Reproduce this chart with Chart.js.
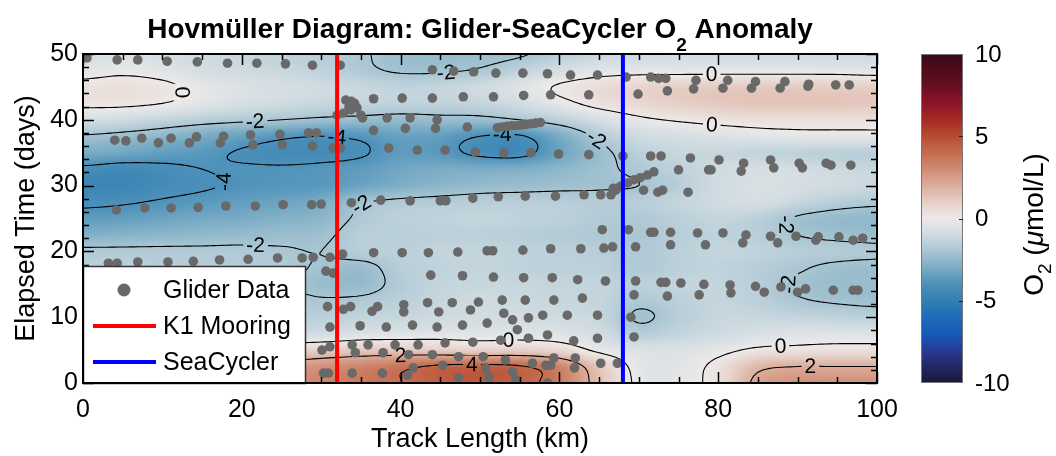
<!DOCTYPE html>
<html>
<head>
<meta charset="utf-8">
<script src="https://cdn.jsdelivr.net/npm/chart.js@4.4.1/dist/chart.umd.min.js"></script>
<style>
  html, body { margin: 0; padding: 0; background: #fff; }
  canvas { display: block; }
</style>
</head>
<body>
<canvas id="hovmoller" width="1056" height="456"></canvas>
<script>
const FONT = '"Liberation Sans", Arial, Helvetica, sans-serif';

// O2 anomaly field (umol/L) on a 5 km x 2.5 day grid, rows from day 50 down to day 0
const gridKm = [0, 5, 10, 15, 20, 25, 30, 35, 40, 45, 50, 55, 60, 65, 70, 75, 80, 85, 90, 95, 100];
const gridDays = [50, 47.5, 45, 42.5, 40, 37.5, 35, 32.5, 30, 27.5, 25, 22.5, 20, 17.5, 15, 12.5, 10, 7.5, 5, 2.5, 0];
const o2Anomaly = [
  [-0.8, -0.6, -0.8, -1.0, -1.2, -1.4, -1.6, -1.9, -2.3, -2.4, -2.3, -2.1, -1.6, -1.2, -1.0, -0.9, -0.9, -0.9, -0.9, -1.0, -1.0],
  [-0.4, -0.2, -0.4, -0.8, -1.0, -1.2, -1.4, -1.8, -2.1, -2.1, -1.9, -1.4, -0.8, -0.4, -0.3, -0.3, -0.3, -0.3, -0.3, -0.3, -0.4],
  [0.3, 0.4, 0.2, -0.3, -0.6, -0.8, -1.0, -1.2, -1.4, -1.3, -1.0, -0.5, 0.1, 0.5, 0.8, 1.0, 1.1, 1.1, 1.1, 1.0, 1.0],
  [0.2, 0.2, 0.0, -0.4, -0.8, -1.0, -1.2, -1.3, -1.4, -1.4, -1.3, -0.9, -0.3, 0.3, 0.7, 1.0, 1.2, 1.3, 1.3, 1.3, 1.2],
  [-0.8, -1.0, -1.3, -1.6, -1.8, -2.0, -2.2, -2.3, -2.4, -2.3, -2.3, -2.0, -1.5, -0.8, -0.2, 0.1, 0.3, 0.4, 0.4, 0.4, 0.4],
  [-2.1, -2.3, -2.6, -3.0, -3.4, -3.8, -4.0, -3.8, -3.4, -3.5, -4.0, -4.1, -3.0, -1.8, -1.0, -0.8, -0.6, -0.4, -0.3, -0.3, -0.3],
  [-3.0, -3.2, -3.5, -3.7, -4.1, -4.3, -4.3, -4.1, -3.6, -3.7, -4.2, -4.3, -3.3, -2.3, -1.5, -1.2, -1.2, -1.3, -1.4, -1.5, -1.5],
  [-4.2, -4.4, -4.2, -4.0, -3.9, -3.9, -3.8, -3.6, -3.2, -3.0, -3.0, -2.9, -2.6, -2.2, -1.8, -1.4, -1.0, -0.8, -0.9, -1.1, -1.2],
  [-4.6, -4.6, -4.3, -4.1, -3.9, -3.8, -3.7, -3.3, -2.9, -2.6, -2.4, -2.3, -2.2, -2.1, -2.0, -1.6, -1.0, -0.7, -0.8, -1.0, -1.1],
  [-4.2, -4.1, -3.9, -3.7, -3.5, -3.3, -3.0, -2.1, -1.8, -1.7, -1.6, -1.6, -1.6, -1.7, -1.6, -1.3, -1.0, -0.8, -1.2, -1.6, -1.8],
  [-3.6, -3.5, -3.3, -3.1, -3.0, -2.8, -2.6, -1.8, -1.5, -1.4, -1.3, -1.4, -1.5, -1.7, -1.8, -1.5, -1.3, -1.5, -2.1, -2.4, -2.5],
  [-2.8, -2.7, -2.6, -2.5, -2.4, -2.3, -2.2, -1.6, -1.6, -1.5, -1.5, -1.6, -1.7, -1.8, -1.9, -1.6, -1.4, -1.6, -2.0, -2.2, -2.3],
  [-1.8, -1.8, -1.8, -1.8, -1.8, -1.9, -2.0, -1.6, -1.5, -1.3, -1.3, -1.4, -1.5, -1.6, -1.8, -1.5, -1.3, -1.4, -1.6, -1.7, -1.8],
  [-1.5, -1.5, -1.6, -1.6, -1.7, -1.8, -2.1, -2.3, -1.6, -1.4, -1.3, -1.4, -1.5, -1.5, -1.8, -1.5, -1.4, -1.6, -1.9, -2.2, -2.3],
  [-1.4, -1.4, -1.5, -1.6, -1.7, -1.9, -2.3, -2.4, -1.7, -1.3, -1.2, -1.2, -1.3, -1.3, -1.5, -1.3, -1.3, -1.6, -2.1, -2.3, -2.3],
  [-1.2, -1.2, -1.3, -1.4, -1.5, -1.7, -1.9, -1.8, -1.5, -1.2, -1.0, -1.1, -1.2, -1.3, -1.8, -1.5, -1.3, -1.5, -1.9, -2.1, -2.2],
  [-1.0, -1.0, -1.1, -1.2, -1.3, -1.4, -1.5, -1.3, -1.2, -1.0, -0.9, -0.9, -1.0, -1.2, -2.1, -1.6, -1.2, -1.2, -1.3, -1.4, -1.5],
  [-0.8, -0.8, -0.9, -1.0, -1.0, -1.0, -0.9, -0.6, -0.5, -0.4, -0.4, -0.4, -0.5, -0.9, -1.6, -1.3, -1.0, -0.7, -0.5, -0.5, -0.5],
  [0.0, 0.0, 0.1, 0.3, 0.5, 0.8, 1.0, 1.2, 1.2, 1.1, 0.9, 1.0, 0.7, -0.2, -0.6, -0.6, -0.3, 0.2, 0.3, 0.4, 0.4],
  [1.0, 1.2, 1.4, 1.6, 2.0, 2.4, 2.8, 3.2, 3.7, 4.2, 4.3, 4.1, 3.2, 1.2, -0.3, -0.4, 0.3, 1.7, 2.0, 2.0, 2.0],
  [1.2, 1.4, 1.6, 2.0, 2.4, 2.8, 3.2, 3.6, 4.0, 4.4, 4.6, 4.3, 3.5, 1.5, -0.2, -0.3, 0.4, 2.3, 2.8, 2.8, 2.8]
];

const contourLevels = [-4, -2, 0, 2, 4];
const colorbarTicks = [-10, -5, 0, 5, 10];

// mooring positions along the track (km)
const k1MooringKm = 32;
const seaCyclerKm = 68;

// glider profiles: [track length km, elapsed days]
const gliderSamples = [
  [0.5, 49.4], [4.3, 49.1], [6.9, 49.1], [10.6, 48.9], [14.4, 48.8], [18.2, 48.6], [21.9, 48.6], [25.5, 48.5], [28.9, 48.3], [32.4, 48.3],
  [44.0, 47.6], [46.7, 47.4], [49.2, 47.3], [52.0, 47.1], [55.4, 47.1], [58.5, 47.0], [61.4, 46.8], [64.8, 46.8], [68.4, 46.5],
  [71.5, 46.5], [72.5, 46.3], [73.4, 46.3], [77.2, 46.0], [81.2, 46.0], [84.7, 45.8], [88.4, 45.8], [91.4, 45.4], [94.8, 45.3], [96.5, 45.3],
  [69.9, 43.9], [73.6, 44.4], [76.9, 44.7], [80.6, 44.8], [84.2, 44.8], [87.8, 44.8], [91.3, 45.1],
  [36.6, 43.2], [40.2, 43.3], [44.0, 43.3], [47.9, 43.5], [51.7, 43.5], [55.5, 43.7], [58.9, 43.8], [63.7, 43.8],
  [33.1, 43.0], [33.8, 42.8], [34.2, 42.5], [34.0, 42.2], [33.5, 42.0], [34.5, 41.8], [33.7, 41.5], [32.8, 41.0], [32.0, 40.7], [35.0, 40.7],
  [35.2, 40.3], [38.3, 40.3], [41.2, 40.3], [44.6, 40.0],
  [36.6, 38.4], [40.6, 38.7], [44.4, 38.7], [48.4, 38.9],
  [52.2, 38.8], [52.8, 38.9], [53.4, 39.0], [54.0, 39.1], [54.6, 39.1], [55.2, 39.2], [55.8, 39.3], [56.4, 39.4], [57.0, 39.5], [57.6, 39.6],
  [4.0, 36.9], [5.4, 36.8], [7.4, 37.2], [9.5, 36.5], [11.1, 37.2], [13.4, 36.5], [14.3, 37.4], [17.3, 36.5], [17.7, 37.5], [21.1, 37.7],
  [21.4, 36.2], [24.8, 37.8], [25.1, 36.2], [28.4, 38.0], [29.4, 38.0], [28.9, 36.0], [31.5, 35.7], [32.4, 35.7],
  [38.5, 35.7], [42.1, 35.4], [45.6, 35.4], [49.4, 35.1], [53.0, 35.0], [56.4, 35.0], [59.9, 34.8], [63.7, 34.7], [68.0, 34.5], [71.5, 34.5],
  [72.8, 34.5], [76.5, 34.2],
  [80.1, 33.9], [79.1, 32.4], [83.2, 33.4], [82.9, 32.2], [86.6, 33.9], [87.0, 32.7], [90.2, 33.4], [90.6, 32.7], [93.6, 33.4], [94.2, 33.1], [96.7, 33.1],
  [65.2, 28.6], [66.5, 28.6], [66.8, 29.6], [67.1, 29.3], [67.7, 29.9], [68.6, 30.4], [69.4, 30.9], [70.2, 31.2], [71.1, 31.6], [71.9, 32.1],
  [70.6, 29.3], [72.4, 29.0], [73.0, 29.3], [76.2, 29.0], [75.0, 32.4], [78.8, 32.4],
  [4.2, 26.3], [7.8, 26.6], [11.1, 26.6], [14.5, 26.7], [18.0, 26.9], [21.7, 26.9], [25.2, 27.1], [28.8, 27.1], [30.0, 27.2], [33.8, 27.4],
  [37.5, 27.8], [41.2, 27.7], [45.0, 27.7], [45.7, 27.7], [49.1, 28.1], [52.3, 28.3], [55.7, 28.4], [59.5, 28.4], [63.1, 28.6],
  [65.4, 23.3], [66.7, 20.7], [68.7, 23.3], [69.6, 20.7], [71.5, 22.9], [71.9, 22.9], [74.0, 22.9], [74.0, 21.0], [77.4, 22.8], [78.4, 21.0],
  [80.6, 22.8], [83.1, 21.3], [83.5, 22.5], [86.6, 22.3], [87.5, 21.3], [89.8, 22.3], [92.3, 21.7], [92.6, 22.2], [95.2, 22.2], [97.0, 21.7], [98.2, 22.0],
  [3.2, 18.2], [4.3, 18.2], [6.9, 18.4], [10.7, 18.4], [13.9, 18.5], [17.2, 18.7], [20.8, 18.8], [24.5, 19.0], [27.6, 19.0], [29.0, 19.1],
  [31.1, 19.1], [32.7, 19.6], [36.6, 19.8], [40.2, 19.8], [43.5, 19.8], [47.2, 19.9], [50.9, 20.1], [51.6, 20.1], [55.4, 20.2], [58.9, 20.4],
  [62.7, 20.4], [65.6, 20.5],
  [30.6, 17.0], [31.5, 16.7], [43.8, 16.4], [47.8, 16.3], [51.7, 16.1], [55.5, 16.0], [59.1, 16.0], [62.3, 15.7], [65.8, 15.5], [69.6, 15.5],
  [72.8, 15.3], [73.4, 15.3], [75.3, 15.2],
  [78.2, 15.0], [77.6, 13.4], [81.5, 14.9], [81.6, 13.7], [84.7, 14.7], [85.8, 13.8], [87.9, 14.6], [90.0, 13.8], [91.0, 14.3], [94.5, 14.1],
  [97.0, 14.1], [97.6, 14.1], [69.4, 13.4], [73.6, 13.2],
  [30.8, 11.6], [32.8, 11.2], [33.7, 11.6], [31.1, 8.5], [34.9, 8.7], [36.4, 10.9], [37.1, 11.6], [40.4, 11.9], [40.4, 10.8], [38.2, 8.5],
  [41.5, 8.8], [43.4, 12.2], [44.8, 10.8], [44.6, 8.5], [46.5, 12.2], [47.8, 8.8], [48.8, 11.1], [49.8, 12.3], [50.9, 9.1], [52.8, 12.6],
  [53.0, 10.6], [54.1, 9.6], [54.7, 8.1], [55.7, 12.6], [56.1, 9.9], [57.9, 10.3], [59.3, 12.6], [61.0, 10.3], [62.9, 12.9], [64.8, 10.3],
  [69.0, 10.0], [69.4, 7.0],
  [30.1, 5.0], [31.1, 5.5], [33.9, 5.8], [35.9, 5.8], [39.3, 5.8], [42.2, 5.8], [45.6, 6.1], [49.1, 6.2], [52.6, 6.5], [56.1, 6.8],
  [58.5, 7.3], [61.8, 6.4], [64.8, 6.8],
  [34.3, 4.6], [37.8, 4.6], [41.0, 4.3], [44.0, 4.3], [47.3, 4.0], [50.4, 4.0], [53.2, 3.5], [56.6, 3.0], [59.3, 3.8], [58.9, 2.7],
  [62.0, 3.8], [61.9, 2.3], [65.2, 3.0], [67.3, 3.0],
  [30.3, 1.5], [30.9, 1.5], [33.9, 1.5], [37.7, 1.5], [40.9, 1.2], [41.6, 2.3], [45.3, 2.7], [47.3, 0.8], [50.7, 2.3], [51.1, 0.9],
  [54.1, 1.7], [54.5, 0.5], [58.3, 2.7], [58.5, 0.0]
];

// diverging colour map, one stop per unit from -10 to 10
const cmap = [
  [22, 25, 60], [35, 40, 100], [40, 60, 150], [22, 90, 188], [30, 108, 182], [50, 127, 178],
  [76, 145, 186], [122, 172, 197], [168, 197, 210], [207, 219, 225], [237, 234, 233],
  [230, 208, 200], [220, 174, 156], [208, 140, 115], [197, 108, 80], [182, 76, 50],
  [166, 42, 36], [140, 22, 42], [105, 15, 35], [80, 12, 28], [58, 9, 22]
];

function o2Color(v) {
  const f = Math.max(0, Math.min(20, v + 10));
  const i = Math.min(19, Math.floor(f)), t = f - i;
  const a = cmap[i], b = cmap[i + 1];
  return [a[0] + (b[0] - a[0]) * t, a[1] + (b[1] - a[1]) * t, a[2] + (b[2] - a[2]) * t];
}

const nCol = gridKm.length, nRow = gridDays.length;
const stepKm = gridKm[1] - gridKm[0], stepDay = gridDays[0] - gridDays[1];
const kmMin = gridKm[0], kmMax = gridKm[nCol - 1];
const dayMin = gridDays[nRow - 1], dayMax = gridDays[0];

function node(r, c) {
  r = Math.max(0, Math.min(nRow - 1, r));
  c = Math.max(0, Math.min(nCol - 1, c));
  return o2Anomaly[r][c];
}
function catmull(p0, p1, p2, p3, t) {
  return p1 + 0.5 * t * (p2 - p0 + t * (2 * p0 - 5 * p1 + 4 * p2 - p3 + t * (3 * (p1 - p2) + p3 - p0)));
}
// smooth (cubic) sampling of the grid for shading and contouring
function fieldAt(km, day) {
  const fc = (km - kmMin) / stepKm, fr = (dayMax - day) / stepDay;
  const c = Math.min(nCol - 2, Math.floor(fc)), r = Math.min(nRow - 2, Math.floor(fr));
  const tc = fc - c, tr = fr - r;
  const rows = [];
  for (let k = -1; k <= 2; k++) {
    rows.push(catmull(node(r + k, c - 1), node(r + k, c), node(r + k, c + 1), node(r + k, c + 2), tc));
  }
  return catmull(rows[0], rows[1], rows[2], rows[3], tr);
}

// marching squares on a fine resampling, chained into polylines
const fineKm = 0.5, fineDay = 0.25;
function contourLines(level) {
  const nx = Math.round((kmMax - kmMin) / fineKm) + 1;
  const ny = Math.round((dayMax - dayMin) / fineDay) + 1;
  const f = [];
  for (let j = 0; j < ny; j++) {
    const row = [];
    for (let i = 0; i < nx; i++) row.push(fieldAt(kmMin + i * fineKm, dayMin + j * fineDay));
    f.push(row);
  }
  const pt = (type, i, j, v0, v1) => {
    const t = (level - v0) / (v1 - v0);
    return type === 'h' ? { k: 'h' + i + '_' + j, x: i + t, y: j } : { k: 'v' + i + '_' + j, x: i, y: j + t };
  };
  const segs = [];
  for (let j = 0; j < ny - 1; j++) {
    for (let i = 0; i < nx - 1; i++) {
      const a = f[j][i], b = f[j][i + 1], c = f[j + 1][i + 1], d = f[j + 1][i];
      const A = a >= level, B = b >= level, C = c >= level, D = d >= level;
      const bottom = A !== B ? pt('h', i, j, a, b) : null;
      const right = B !== C ? pt('v', i + 1, j, b, c) : null;
      const top = D !== C ? pt('h', i, j + 1, d, c) : null;
      const left = A !== D ? pt('v', i, j, a, d) : null;
      const list = [bottom, right, top, left].filter(Boolean);
      if (list.length === 2) segs.push(list);
      else if (list.length === 4) {
        const centre = (a + b + c + d) / 4 >= level;
        if (centre === A) { segs.push([bottom, right]); segs.push([top, left]); }
        else { segs.push([bottom, left]); segs.push([right, top]); }
      }
    }
  }
  const byKey = new Map();
  segs.forEach((s, n) => s.forEach(p => {
    if (!byKey.has(p.k)) byKey.set(p.k, []);
    byKey.get(p.k).push(n);
  }));
  const used = new Array(segs.length).fill(false);
  const lines = [];
  const walk = (key, add) => {
    for (;;) {
      const next = (byKey.get(key) || []).find(m => !used[m]);
      if (next === undefined) return;
      used[next] = true;
      const s = segs[next];
      const other = s[0].k === key ? s[1] : s[0];
      add(other);
      key = other.k;
    }
  };
  for (let n = 0; n < segs.length; n++) {
    if (used[n]) continue;
    used[n] = true;
    const line = [segs[n][0], segs[n][1]];
    walk(segs[n][1].k, p => line.push(p));
    walk(segs[n][0].k, p => line.unshift(p));
    lines.push(line.map(p => ({ km: kmMin + p.x * fineKm, day: dayMin + p.y * fineDay })));
  }
  return lines;
}

const legendBox = { w: 222, h: 117 };

const fieldPlugin = {
  id: 'o2field',
  beforeDatasetsDraw(chart) {
    const { ctx, chartArea: a, scales: { x, y } } = chart;
    const w = Math.round(a.right - a.left), h = Math.round(a.bottom - a.top);
    const off = document.createElement('canvas');
    off.width = w; off.height = h;
    const octx = off.getContext('2d');
    const img = octx.createImageData(w, h);
    const kms = [];
    for (let px = 0; px < w; px++) kms.push(x.getValueForPixel(a.left + px + 0.5));
    for (let py = 0; py < h; py++) {
      const day = y.getValueForPixel(a.top + py + 0.5);
      for (let px = 0; px < w; px++) {
        const col = o2Color(fieldAt(kms[px], day));
        const k = (py * w + px) * 4;
        img.data[k] = col[0]; img.data[k + 1] = col[1]; img.data[k + 2] = col[2]; img.data[k + 3] = 255;
      }
    }
    octx.putImageData(img, 0, 0);
    ctx.drawImage(off, a.left, a.top);

    // contour lines with inline labels
    ctx.save();
    ctx.font = '21px ' + FONT;
    const labels = [];
    const paths = [];
    contourLevels.forEach(level => {
      contourLines(level).forEach(line => {
        const pts = line.map(p => [x.getPixelForValue(p.km), y.getPixelForValue(p.day)]);
        paths.push(pts);
        const cum = [0];
        for (let i = 1; i < pts.length; i++) {
          cum.push(cum[i - 1] + Math.hypot(pts[i][0] - pts[i - 1][0], pts[i][1] - pts[i - 1][1]));
        }
        const L = cum[cum.length - 1];
        if (L < 70) return;
        const at = s => {
          let i = cum.findIndex(c => c >= s);
          if (i < 1) i = 1;
          const t = (s - cum[i - 1]) / ((cum[i] - cum[i - 1]) || 1);
          return [pts[i - 1][0] + (pts[i][0] - pts[i - 1][0]) * t, pts[i - 1][1] + (pts[i][1] - pts[i - 1][1]) * t];
        };
        const n = Math.max(1, Math.round(L / 360));
        for (let k = 0; k < n; k++) {
          const s = L * (k + 0.5) / n;
          const c = at(s), p0 = at(Math.max(0, s - 12)), p1 = at(Math.min(L, s + 12));
          if (c[0] < a.left + 12 || c[0] > a.right - 12 || c[1] < a.top + 10 || c[1] > a.bottom - 10) continue;
          if (c[0] < a.left + legendBox.w + 14 && c[1] > a.bottom - legendBox.h - 12) continue;
          let ang = Math.atan2(p1[1] - p0[1], p1[0] - p0[0]);
          if (ang > Math.PI / 2) ang -= Math.PI;
          if (ang < -Math.PI / 2) ang += Math.PI;
          const text = String(level);
          labels.push({ x: c[0], y: c[1], ang, text, w: ctx.measureText(text).width });
        }
      });
    });
    ctx.beginPath();
    ctx.rect(a.left, a.top, a.right - a.left, a.bottom - a.top);
    labels.forEach(l => {
      const hw = l.w / 2 + 3, hh = 9;
      const c = Math.cos(l.ang), s = Math.sin(l.ang);
      [[-hw, -hh], [hw, -hh], [hw, hh], [-hw, hh]].forEach(([u, v], i) => {
        const X = l.x + u * c - v * s, Y = l.y + u * s + v * c;
        if (i === 0) ctx.moveTo(X, Y); else ctx.lineTo(X, Y);
      });
      ctx.closePath();
    });
    ctx.clip('evenodd');
    ctx.strokeStyle = '#000';
    ctx.lineWidth = 1.1;
    paths.forEach(pts => {
      ctx.beginPath();
      pts.forEach((p, i) => (i ? ctx.lineTo(p[0], p[1]) : ctx.moveTo(p[0], p[1])));
      ctx.stroke();
    });
    ctx.restore();
    ctx.save();
    ctx.beginPath();
    ctx.rect(a.left, a.top, a.right - a.left, a.bottom - a.top);
    ctx.clip();
    ctx.fillStyle = '#000';
    ctx.font = '21px ' + FONT;
    ctx.textAlign = 'center';
    ctx.textBaseline = 'middle';
    labels.forEach(l => {
      ctx.save();
      ctx.translate(l.x, l.y);
      ctx.rotate(l.ang);
      ctx.fillText(l.text, 0, 1);
      ctx.restore();
    });
    ctx.restore();
  },

  afterDatasetsDraw(chart) {
    const { ctx, chartArea: a, scales: { x, y } } = chart;
    ctx.save();
    ctx.strokeStyle = '#000';
    ctx.lineWidth = 1.5;
    ctx.beginPath();
    for (let v = 0; v <= 100; v += 5) {
      const len = v % 20 === 0 ? 11 : 6;
      const px = Math.round(x.getPixelForValue(v)) + 0.5;
      ctx.moveTo(px, a.bottom); ctx.lineTo(px, a.bottom - len);
      ctx.moveTo(px, a.top); ctx.lineTo(px, a.top + len);
    }
    for (let v = 0; v <= 50; v += 2) {
      const len = v % 10 === 0 ? 11 : 6;
      const py = Math.round(y.getPixelForValue(v)) + 0.5;
      ctx.moveTo(a.left, py); ctx.lineTo(a.left + len, py);
      ctx.moveTo(a.right, py); ctx.lineTo(a.right - len, py);
    }
    ctx.stroke();

    // legend box in the lower-left corner
    const lx = a.left, ly = a.bottom - legendBox.h;
    ctx.fillStyle = '#fff';
    ctx.fillRect(lx, ly, legendBox.w, legendBox.h);
    ctx.strokeStyle = '#333';
    ctx.lineWidth = 1.5;
    ctx.strokeRect(lx + 0.5, ly + 0.5, legendBox.w, legendBox.h);
    const ds = chart.data.datasets;
    const entries = [ds[2], ds[0], ds[1]];
    ctx.font = '25px ' + FONT;
    ctx.textBaseline = 'middle';
    ctx.textAlign = 'left';
    entries.forEach((d, i) => {
      const cy = ly + 24 + i * 36;
      if (d.type === 'line') {
        ctx.strokeStyle = d.borderColor;
        ctx.lineWidth = 4;
        ctx.beginPath();
        ctx.moveTo(lx + 10, cy); ctx.lineTo(lx + 73, cy);
        ctx.stroke();
      } else {
        ctx.fillStyle = d.backgroundColor;
        ctx.beginPath();
        ctx.arc(lx + 41, cy, 6.5, 0, Math.PI * 2);
        ctx.fill();
      }
      ctx.fillStyle = '#000';
      ctx.fillText(d.label, lx + 80, cy + 1);
    });

    ctx.strokeStyle = '#000';
    ctx.lineWidth = 2;
    ctx.strokeRect(a.left, a.top, a.right - a.left, a.bottom - a.top);
    ctx.restore();
  },

  afterDraw(chart) {
    const { ctx, chartArea: a } = chart;
    ctx.save();
    // title with subscript
    const t1 = 'Hovmüller Diagram: Glider-SeaCycler O', t2 = '2', t3 = ' Anomaly';
    ctx.fillStyle = '#000';
    ctx.textBaseline = 'alphabetic';
    ctx.textAlign = 'left';
    ctx.font = 'bold 28px ' + FONT;
    const w1 = ctx.measureText(t1).width, w3 = ctx.measureText(t3).width;
    ctx.font = 'bold 19px ' + FONT;
    const w2 = ctx.measureText(t2).width;
    let tx = (a.left + a.right) / 2 - (w1 + w2 + w3) / 2;
    ctx.font = 'bold 28px ' + FONT;
    ctx.fillText(t1, tx, 38);
    ctx.font = 'bold 19px ' + FONT;
    ctx.fillText(t2, tx + w1, 51);
    ctx.font = 'bold 28px ' + FONT;
    ctx.fillText(t3, tx + w1 + w2, 38);

    // colour bar
    const cbL = a.right + 44, cbW = 42, cbT = a.top, cbB = a.bottom;
    const hgt = cbB - cbT;
    for (let py = 0; py < hgt; py++) {
      const v = 10 - 20 * (py + 0.5) / hgt;
      const c = o2Color(v);
      ctx.fillStyle = `rgb(${c[0] | 0},${c[1] | 0},${c[2] | 0})`;
      ctx.fillRect(cbL, cbT + py, cbW, 1);
    }
    ctx.strokeStyle = '#777';
    ctx.lineWidth = 1;
    ctx.strokeRect(cbL + 0.5, cbT + 0.5, cbW - 1, hgt - 1);
    ctx.font = '24px ' + FONT;
    ctx.textBaseline = 'middle';
    ctx.textAlign = 'left';
    ctx.fillStyle = '#000';
    ctx.strokeStyle = '#222';
    colorbarTicks.forEach(v => {
      const py = cbT + (10 - v) / 20 * hgt;
      if (v > -10 && v < 10) {
        ctx.beginPath();
        ctx.moveTo(cbL + cbW - 4, Math.round(py) + 0.5);
        ctx.lineTo(cbL + cbW, Math.round(py) + 0.5);
        ctx.stroke();
      }
      ctx.fillText(String(v), cbL + cbW + 12, py + 1);
    });

    // colour bar label: O2 (umol/L)
    ctx.translate(1033, (cbT + cbB) / 2 + 6);
    ctx.rotate(-Math.PI / 2);
    const parts = [
      { s: 'O', f: '28px ' + FONT, dy: 0 },
      { s: '2', f: '19px ' + FONT, dy: 8 },
      { s: ' (', f: '28px ' + FONT, dy: 0 },
      { s: 'μ', f: 'italic 28px ' + FONT, dy: 0 },
      { s: 'mol/L)', f: '28px ' + FONT, dy: 0 }
    ];
    let tot = 0;
    parts.forEach(p => { ctx.font = p.f; p.w = ctx.measureText(p.s).width; tot += p.w; });
    let cx = -tot / 2;
    ctx.textBaseline = 'alphabetic';
    parts.forEach(p => {
      ctx.font = p.f;
      ctx.fillText(p.s, cx, 10 + p.dy);
      cx += p.w;
    });
    ctx.restore();
  }
};

new Chart(document.getElementById('hovmoller'), {
  type: 'scatter',
  data: {
    datasets: [
      {
        type: 'line',
        label: 'K1 Mooring',
        data: [{ x: k1MooringKm, y: 0 }, { x: k1MooringKm, y: 50 }],
        borderColor: '#ff0000',
        borderWidth: 4,
        pointRadius: 0
      },
      {
        type: 'line',
        label: 'SeaCycler',
        data: [{ x: seaCyclerKm, y: 0 }, { x: seaCyclerKm, y: 50 }],
        borderColor: '#0000ff',
        borderWidth: 4,
        pointRadius: 0
      },
      {
        label: 'Glider Data',
        data: gliderSamples.map(([km, day]) => ({ x: km, y: day })),
        backgroundColor: '#696969',
        borderWidth: 0,
        pointRadius: 4.8
      }
    ]
  },
  options: {
    responsive: false,
    animation: false,
    devicePixelRatio: 1,
    layout: { padding: { left: 0, right: 179, top: 54, bottom: 0 } },
    plugins: { legend: { display: false }, tooltip: { enabled: false } },
    scales: {
      x: {
        type: 'linear', min: 0, max: 100,
        ticks: { stepSize: 20, color: '#000', padding: 12, maxRotation: 0, font: { family: FONT, size: 25 } },
        grid: { display: false, drawTicks: false },
        border: { display: false },
        title: { display: true, text: 'Track Length (km)', color: '#000', font: { family: FONT, size: 27 }, padding: { top: 0, bottom: 0 } },
        afterFit(s) { s.height = 73; }
      },
      y: {
        type: 'linear', min: 0, max: 50,
        ticks: { stepSize: 10, color: '#000', padding: 5, font: { family: FONT, size: 25 } },
        grid: { display: false, drawTicks: false },
        border: { display: false },
        title: { display: true, text: 'Elapsed Time (days)', color: '#000', font: { family: FONT, size: 27 }, padding: { top: 10, bottom: 0 } },
        afterFit(s) { s.width = 83; }
      }
    }
  },
  plugins: [fieldPlugin]
});
</script>
</body>
</html>
